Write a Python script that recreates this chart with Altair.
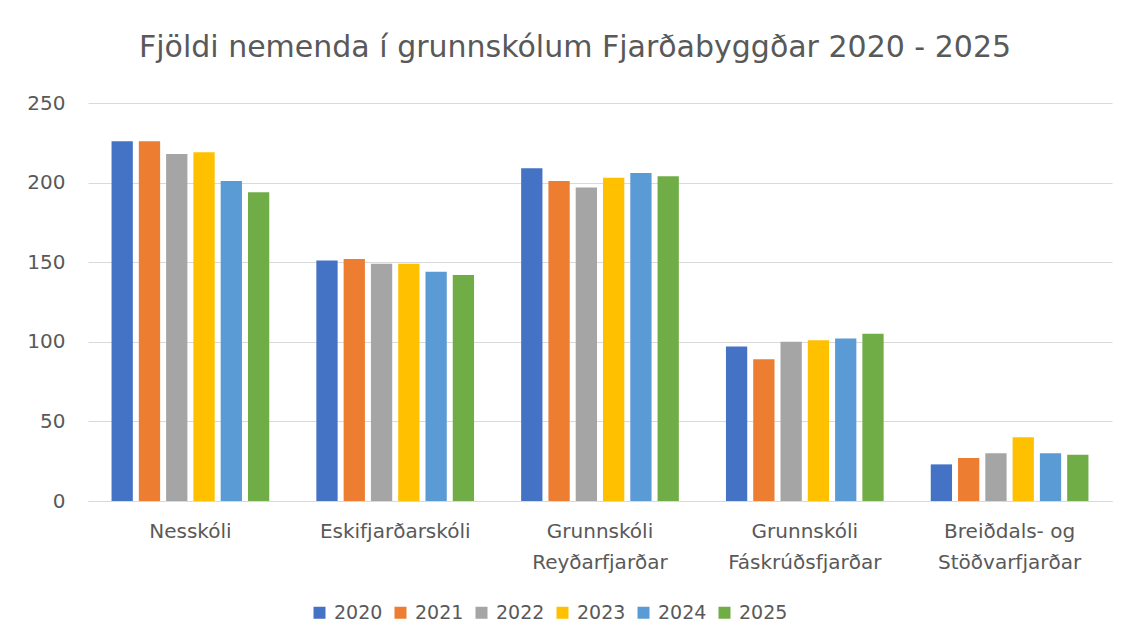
import altair as alt
import pandas as pd

schools = ["Nesskóli", "Eskifjarðarskóli", "Grunnskóli\nReyðarfjarðar",
           "Grunnskóli\nFáskrúðsfjarðar", "Breiðdals- og\nStöðvarfjarðar"]
years = ["2020", "2021", "2022", "2023", "2024", "2025"]
v2020 = [226, 151, 209, 97, 23]
v2021 = [226, 152, 201, 89, 27]
v2022 = [218, 149, 197, 100, 30]
v2023 = [219, 149, 203, 101, 40]
v2024 = [201, 144, 206, 102, 30]
v2025 = [194, 142, 204, 105, 29]
colors = ["#4472C4", "#ED7D31", "#A5A5A5", "#FFC000", "#5B9BD5", "#70AD47"]

series = [v2020, v2021, v2022, v2023, v2024, v2025]
rows = []
for y, vals in zip(years, series):
    for s, v in zip(schools, vals):
        rows.append({"skoli": s, "ar": y, "fjoldi": v})
df = pd.DataFrame(rows)

FONT = "DejaVu Sans"
GREY = "#595959"

chart = alt.Chart(df).mark_bar().encode(
    x=alt.X("skoli:N", sort=schools, title=None,
            scale=alt.Scale(paddingInner=0.23, paddingOuter=0.115),
            axis=alt.Axis(labelAngle=0, labelExpr="split(datum.label, '\\n')",
                          labelFontSize=20, labelColor=GREY, labelFont=FONT,
                          labelLineHeight=31, labelPadding=20, ticks=False,
                          domainColor="#d9d9d9", labelBaseline="top")),
    xOffset=alt.XOffset("ar:N", sort=years,
                        scale=alt.Scale(paddingInner=0.22, paddingOuter=0)),
    y=alt.Y("fjoldi:Q", title=None,
            scale=alt.Scale(domain=[0, 250]),
            axis=alt.Axis(values=[0, 50, 100, 150, 200, 250], domain=False, ticks=False,
                          labelFontSize=20, labelColor=GREY, labelFont=FONT,
                          labelPadding=23, gridColor="#d9d9d9")),
    color=alt.Color("ar:N", sort=years, scale=alt.Scale(domain=years, range=colors),
                    legend=alt.Legend(title=None, orient="none", direction="horizontal",
                                      legendX=222, legendY=500, symbolType="square",
                                      symbolSize=144, symbolStrokeWidth=0,
                                      labelFontSize=19, labelColor=GREY, labelFont=FONT,
                                      columnPadding=8, labelOffset=5)),
).properties(
    width=1024, height=398,
    title=alt.TitleParams("Fjöldi nemenda í grunnskólum Fjarðabyggðar 2020 - 2025",
                          fontSize=30, font=FONT, color=GREY, fontWeight="normal",
                          anchor="middle", dx=-25, offset=30),
    autosize=alt.AutoSizeParams(type="none"),
    padding={"left": 80, "top": 95, "right": 12, "bottom": 135},
).configure_view(stroke=None)

chart.save("out.html", embed_options={"renderer": "svg", "actions": False})
